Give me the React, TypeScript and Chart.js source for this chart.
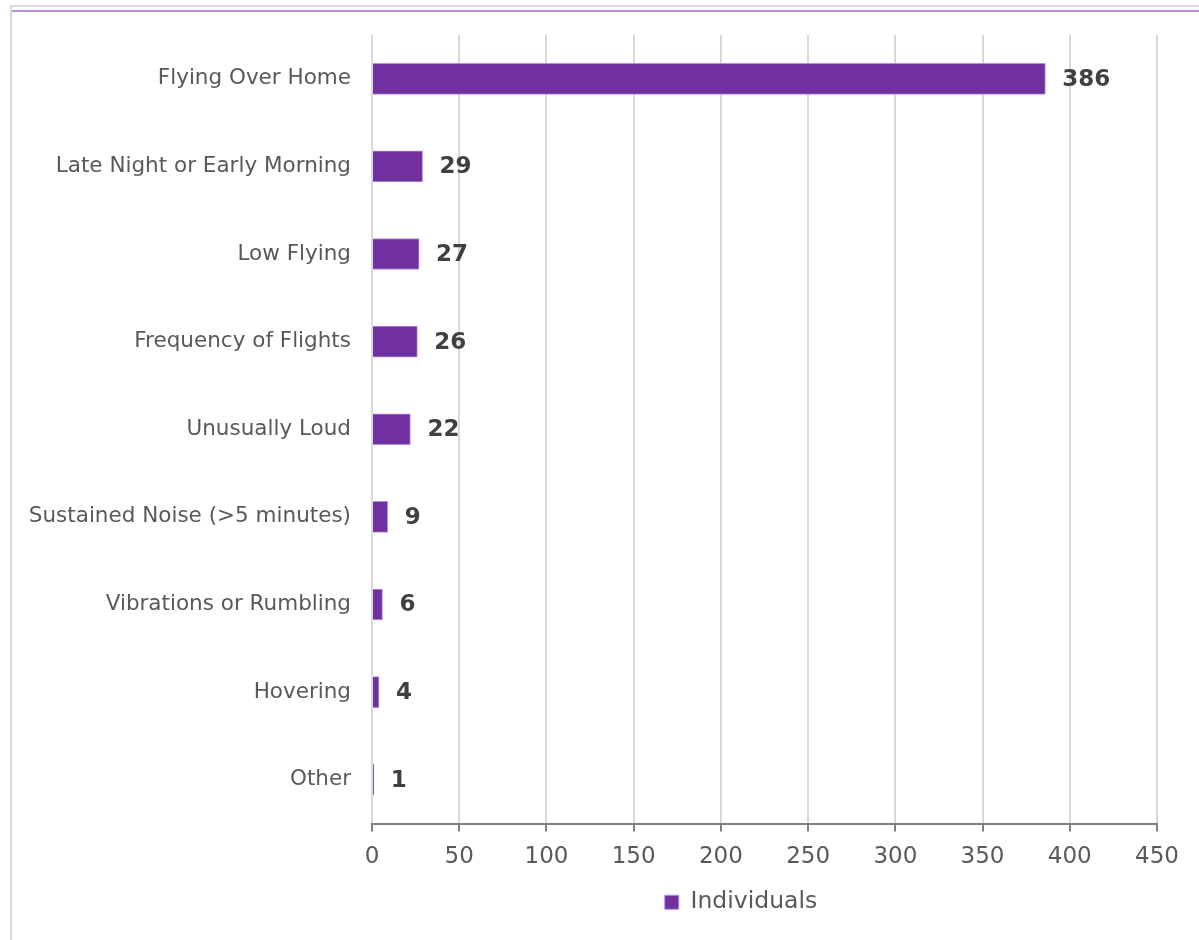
import React, { useEffect, useRef } from "react";
import { Chart, registerables } from "chart.js";

Chart.register(...registerables);

const categories: string[] = [
  "Flying Over Home",
  "Late Night or Early Morning",
  "Low Flying",
  "Frequency of Flights",
  "Unusually Loud",
  "Sustained Noise (>5 minutes)",
  "Vibrations or Rumbling",
  "Hovering",
  "Other",
];

const individuals: number[] = [386, 29, 27, 26, 22, 9, 6, 4, 1];

const seriesName = "Individuals";

const xTicks: number[] = [0, 50, 100, 150, 200, 250, 300, 350, 400, 450];

const FONT = "'DejaVu Sans', Verdana, sans-serif";

const valueLabels = {
  id: "valueLabels",
  afterDatasetsDraw(chart: any) {
    const ctx = chart.ctx;
    const meta = chart.getDatasetMeta(0);
    const data = chart.data.datasets[0].data as number[];
    ctx.save();
    ctx.font = `bold 23px ${FONT}`;
    ctx.fillStyle = "#404040";
    ctx.textAlign = "left";
    ctx.textBaseline = "middle";
    meta.data.forEach((bar: any, i: number) => {
      ctx.fillText(String(data[i]), bar.x + 17, bar.y + 1);
    });
    ctx.restore();
  },
};

// shift the legend so that it sits centred where the original legend is
const LEGEND_CENTER = 741;
const legendShift = {
  id: "legendShift",
  afterLayout(chart: any) {
    const lg = chart.legend;
    if (!lg) return;
    const shift = LEGEND_CENTER - (lg.left + lg.right) / 2;
    lg.left += shift;
    lg.right += shift;
  },
};

export default function App() {
  const canvasRef = useRef<HTMLCanvasElement | null>(null);

  useEffect(() => {
    if (!canvasRef.current) return;
    const chart = new Chart(canvasRef.current, {
      type: "bar",
      data: {
        labels: categories,
        datasets: [
          {
            label: seriesName,
            data: individuals,
            backgroundColor: "#7030a0",
            borderColor: "#b58fdb",
            borderWidth: 1,
            barThickness: 31,
          },
        ],
      },
      options: {
        indexAxis: "y",
        animation: false,
        responsive: true,
        maintainAspectRatio: false,
        layout: { padding: { left: 12, right: 42, top: 35, bottom: 16 } },
        scales: {
          x: {
            min: 0,
            max: 450,
            afterFit: (scale: any) => {
              scale.height = 57;
            },
            afterBuildTicks: (scale: any) => {
              scale.ticks = xTicks.map((v) => ({ value: v }));
            },
            grid: {
              color: "#d9d9d9",
              lineWidth: 2,
              drawTicks: true,
              tickLength: 8,
              tickColor: "#7f7f7f",
              tickWidth: 2,
            },
            border: { display: true, color: "#7f7f7f", width: 2 },
            ticks: {
              color: "#595959",
              font: { family: FONT, size: 23 },
              padding: 12,
            },
          },
          y: {
            afterFit: (scale: any) => {
              scale.width = 360;
            },
            grid: { display: false, drawTicks: false },
            border: { display: false },
            ticks: {
              color: "#595959",
              font: { family: FONT, size: 21.5 },
              padding: 21,
            },
          },
        },
        plugins: {
          legend: {
            position: "bottom",
            labels: {
              boxWidth: 14,
              boxHeight: 14,
              color: "#595959",
              font: { family: FONT, size: 23.5 },
              padding: 10,
            },
          },
          tooltip: { enabled: false },
        },
      },
      plugins: [valueLabels, legendShift],
    });
    return () => chart.destroy();
  }, []);

  return (
    <div style={{ position: "absolute", left: 0, top: 0, width: 1199, height: 940, background: "#ffffff", overflow: "hidden" }}>
      <canvas ref={canvasRef} />
      <div style={{ position: "absolute", left: 10, top: 5, right: 0, height: 2, background: "#d9d9d9" }} />
      <div style={{ position: "absolute", left: 10, top: 5, bottom: 0, width: 2, background: "#d9d9d9" }} />
      <div style={{ position: "absolute", left: 12, top: 10, right: 0, height: 2, background: "#b98fe0" }} />
    </div>
  );
}
